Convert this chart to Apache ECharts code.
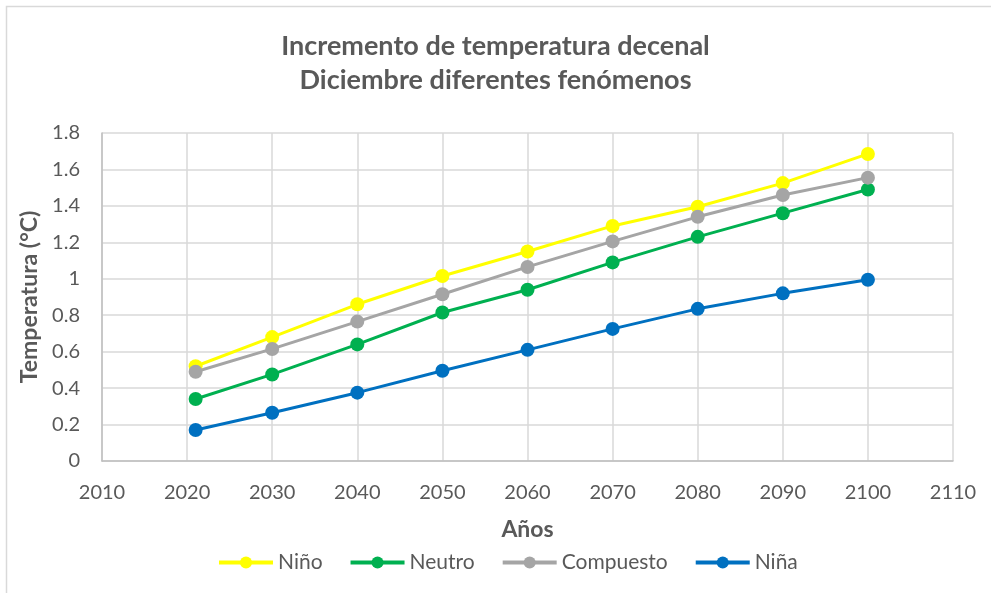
<!DOCTYPE html>
<html>
<head>
<meta charset="utf-8">
<title>Incremento de temperatura decenal</title>
<script src="https://cdn.jsdelivr.net/npm/echarts@6/dist/echarts.min.js"></script>
<style>
  html, body { margin: 0; padding: 0; background: #ffffff; }
  #chart { width: 991px; height: 593px; }
</style>
</head>
<body>
<div id="chart"></div>
<script>
// Decade years (the first point is 2021)
const years = [2021, 2030, 2040, 2050, 2060, 2070, 2080, 2090, 2100];

// Temperature increase (°C) for December, by phenomenon
const nino      = [0.52, 0.68, 0.86, 1.015, 1.15, 1.29, 1.395, 1.525, 1.685];
const neutro    = [0.34, 0.475, 0.64, 0.815, 0.94, 1.09, 1.23, 1.36, 1.49];
const compuesto = [0.49, 0.615, 0.765, 0.915, 1.065, 1.205, 1.34, 1.46, 1.555];
const nina      = [0.17, 0.265, 0.375, 0.495, 0.61, 0.725, 0.835, 0.92, 0.995];

const seriesNames = ['Niño', 'Neutro', 'Compuesto', 'Niña'];
const seriesColors = ['#FFFF00', '#00B050', '#A5A5A5', '#0070C0'];
const seriesData = [nino, neutro, compuesto, nina];

const textColor = '#595959';
const fontFamily = 'Lato, "Open Sans", sans-serif';

const chart = echarts.init(document.getElementById('chart'), null, { renderer: 'canvas' });

const series = seriesNames.map((name, i) => ({
  name: name,
  type: 'line',
  data: years.map((y, k) => [y, seriesData[i][k]]),
  symbol: 'circle',
  symbolSize: 14,
  showSymbol: true,
  lineStyle: { color: seriesColors[i], width: 3 },
  itemStyle: { color: seriesColors[i] },
  emphasis: { disabled: true },
  animation: false
}));

chart.setOption({
  backgroundColor: '#ffffff',
  animation: false,
  textStyle: { fontFamily: fontFamily },
  title: {
    text: 'Incremento de temperatura decenal\nDiciembre diferentes fenómenos',
    left: 'center',
    top: 29,
    padding: [0, 0, 0, 10],
    textStyle: {
      color: textColor,
      fontSize: 27,
      fontWeight: 'bold',
      fontFamily: fontFamily,
      lineHeight: 34
    }
  },
  graphic: [{
    type: 'rect',
    shape: { x: 6.5, y: 6.5, width: 1000, height: 600 },
    style: { fill: 'none', stroke: '#d9d9d9', lineWidth: 1.5 },
    silent: true,
    z: -1
  }],
  legend: {
    data: seriesNames,
    left: 212,
    top: 547,
    itemWidth: 54,
    itemHeight: 15,
    itemGap: 26,
    lineStyle: { width: 4 },
    textStyle: { color: textColor, fontSize: 21, fontFamily: fontFamily }
  },
  grid: { left: 102, right: 38, top: 133, bottom: 132, containLabel: false },
  xAxis: {
    type: 'value',
    min: 2010,
    max: 2110,
    interval: 10,
    name: 'Años',
    nameLocation: 'middle',
    nameGap: 57,
    nameTextStyle: { color: textColor, fontSize: 23, fontWeight: 'bold', fontFamily: fontFamily },
    axisLine: { show: true, lineStyle: { color: '#bfbfbf', width: 1.5 } },
    axisTick: { show: false },
    axisLabel: {
      color: textColor, fontSize: 20, margin: 22, fontFamily: fontFamily,
      showMinLabel: true, showMaxLabel: true,
      formatter: v => String(v)
    },
    splitLine: { show: true, lineStyle: { color: '#d9d9d9', width: 1.5 } }
  },
  yAxis: {
    type: 'value',
    min: 0,
    max: 1.8,
    interval: 0.2,
    name: 'Temperatura (°C)',
    nameLocation: 'middle',
    nameGap: 55,
    nameRotate: 90,
    nameTextStyle: { color: textColor, fontSize: 23, fontWeight: 'bold', fontFamily: fontFamily },
    axisLine: { show: true, lineStyle: { color: '#bfbfbf', width: 1.5 } },
    axisTick: { show: false },
    axisLabel: {
      color: textColor, fontSize: 20, margin: 22, fontFamily: fontFamily,
      formatter: v => String(Math.round(v * 10) / 10)
    },
    splitLine: { show: true, lineStyle: { color: '#d9d9d9', width: 1.5 } }
  },
  series: series
});
</script>
</body>
</html>
